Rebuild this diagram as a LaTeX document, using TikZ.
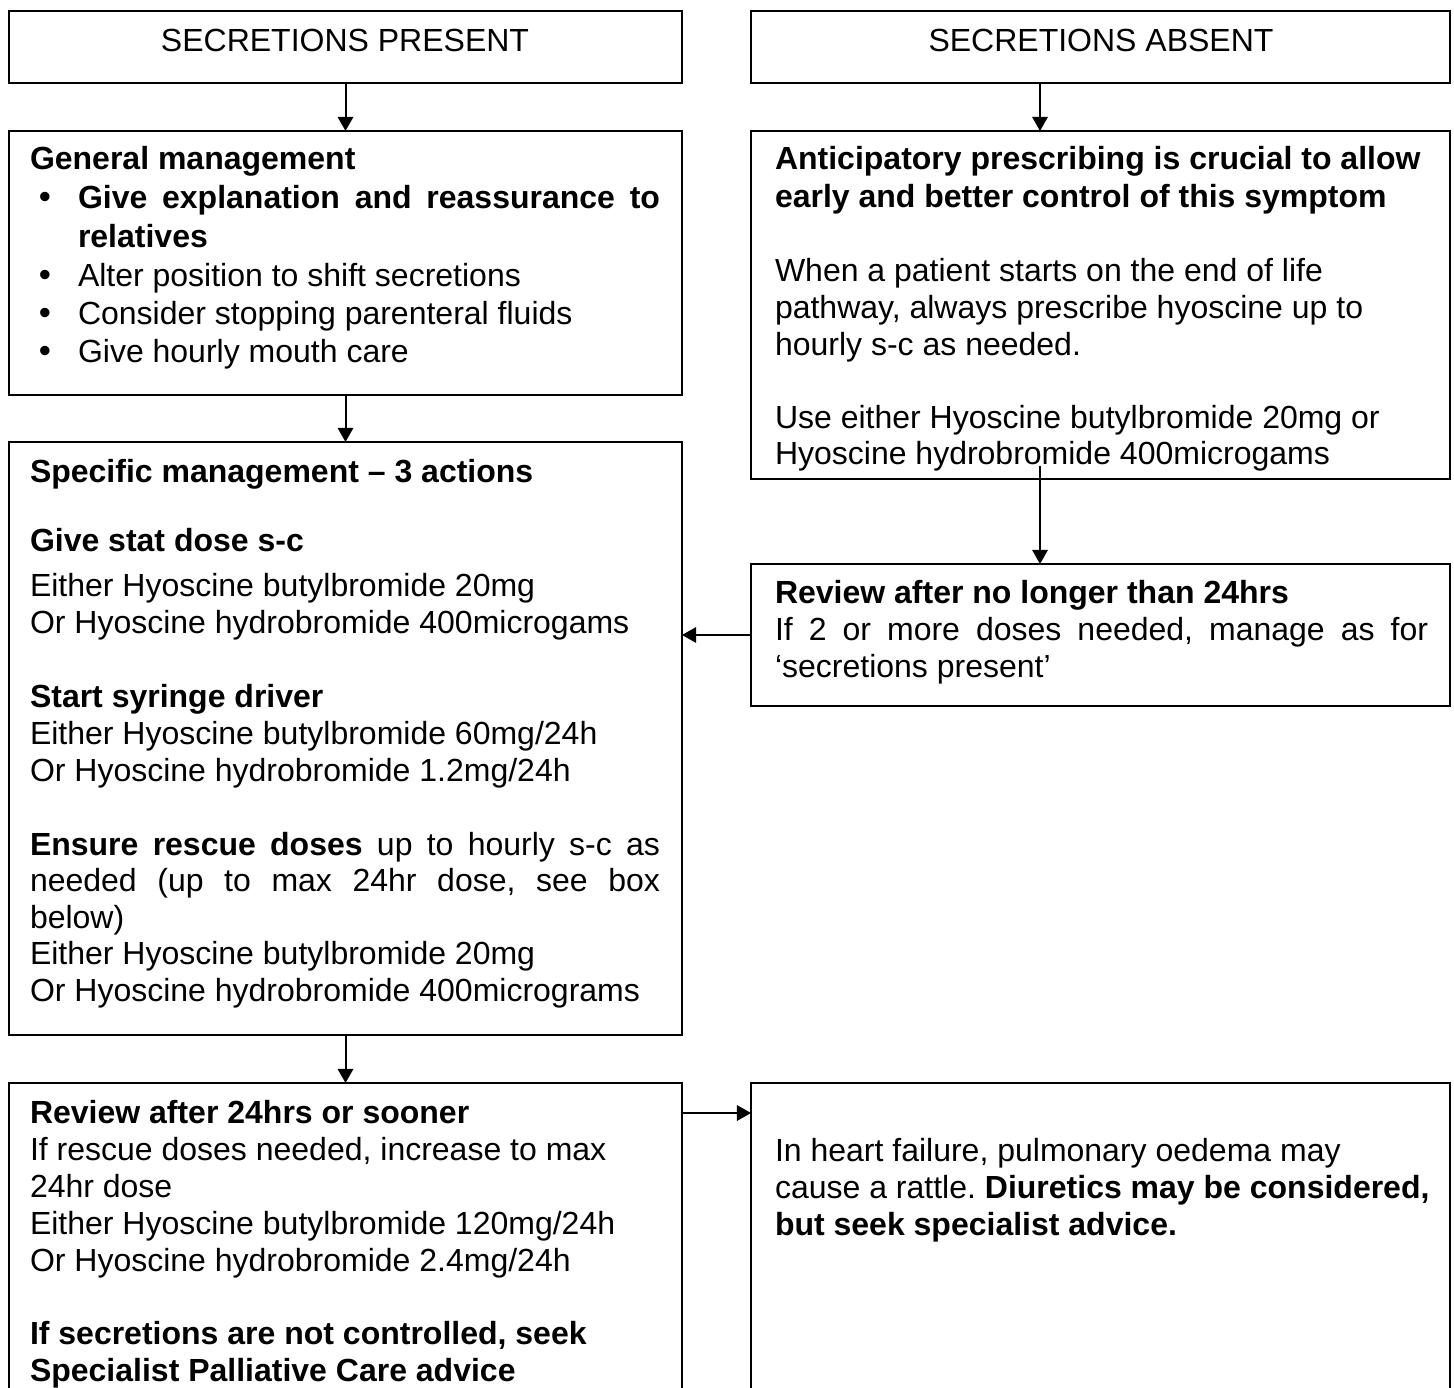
\documentclass[tikz,border=0pt]{standalone}
\usepackage{fontspec}
\setmainfont{Liberation Sans}
\usetikzlibrary{arrows.meta}
\frenchspacing
\tikzset{
  box/.style={draw, line width=0.8pt, inner sep=0pt, outer sep=0pt, anchor=north west},
  arr/.style={-{Triangle[length=5.3pt,width=5.8pt]}, line width=0.75pt},
  txt/.style={anchor=base west, inner sep=0pt, outer sep=0pt, align=justify},
  fs/.style={font={\fontsize{12pt}{#1}\selectfont}},
  bul/.style={anchor=base, inner sep=0pt, font={\fontsize{13pt}{14pt}\selectfont}},
}
\begin{document}
\begin{tikzpicture}[x=0.375pt, y=-0.375pt]
\clip (0,0) rectangle (1454,1387);
% boxes
\node[box, minimum width=252.375pt, minimum height=27pt] (A) at (9,11) {};
\node[box, minimum width=262.125pt, minimum height=27pt] (B) at (751,11) {};
\node[box, minimum width=252.375pt, minimum height=99pt] (C) at (9,131) {};
\node[box, minimum width=252.375pt, minimum height=222.375pt] (D) at (9,442) {};
\node[box, minimum width=252.375pt, minimum height=118.875pt] (E) at (9,1083) {};
\node[box, minimum width=262.125pt, minimum height=130.5pt] (F) at (751,131) {};
\node[box, minimum width=262.125pt, minimum height=53.25pt] (G) at (751,564) {};
\node[box, minimum width=262.125pt, minimum height=118.875pt] (H) at (751,1083) {};
% headings
\node[anchor=base, inner sep=0pt, fs=14pt] (tA) at (345,52) {SECRETIONS PRESENT};
\node[anchor=base, inner sep=0pt, fs=14pt] (tB) at (1101,52) {SECRETIONS ABSENT};
% box C
\node[txt, text width=236.25pt, fs=14.4pt] (tC1) at (30,170) {\bfseries General management};
\node[txt, text width=218.25pt, fs=14.4pt] (tC2) at (78,209) {\bfseries Give explanation and reassurance to\linebreak relatives};
\node[txt, text width=230pt, fs=14.4pt] (tC3) at (78,286) {Alter position to shift secretions\newline Consider stopping parenteral fluids\newline Give hourly mouth care};
\node[bul] (b1) at (45,209) {•};
\node[bul] (b2) at (45,286) {•};
\node[bul] (b3) at (45,324) {•};
\node[bul] (b4) at (45,362) {•};
% box D
\node[txt, text width=236.25pt, fs=13.9pt] (tD1) at (30,482) {\bfseries Specific management – 3 actions};
\node[txt, text width=236.25pt, fs=13.9pt] (tD2) at (30,551) {\bfseries Give stat dose s-c};
\node[txt, text width=245pt, fs=13.9pt] (tD3) at (30,596) {Either Hyoscine butylbromide 20mg\newline Or Hyoscine hydrobromide 400microgams};
\node[txt, text width=245pt, fs=13.9pt] (tD4) at (30,707) {\textbf{Start syringe driver}\newline Either Hyoscine butylbromide 60mg/24h\newline Or Hyoscine hydrobromide 1.2mg/24h};
\node[txt, text width=236.25pt, fs=13.7pt] (tD5) at (30,855) {\textbf{Ensure rescue doses} up to hourly s-c as\linebreak needed (up to max 24hr dose, see box\linebreak below)\newline Either Hyoscine butylbromide 20mg\newline Or Hyoscine hydrobromide 400micrograms};
% box E
\node[txt, text width=245pt, fs=13.9pt] (tE1) at (30,1123) {\textbf{Review after 24hrs or sooner}\newline If rescue doses needed, increase to max\newline 24hr dose\newline Either Hyoscine butylbromide 120mg/24h\newline Or Hyoscine hydrobromide 2.4mg/24h};
\node[txt, text width=245pt, fs=13.9pt] (tE2) at (30,1344) {\bfseries If secretions are not controlled, seek\newline Specialist Palliative Care advice};
% box F
\node[txt, text width=255pt, fs=13.9pt] (tF1) at (775,170) {\bfseries Anticipatory prescribing is crucial to allow\newline early and better control of this symptom};
\node[txt, text width=255pt, fs=13.7pt] (tF2) at (775,282) {When a patient starts on the end of life\newline pathway, always prescribe hyoscine up to\newline hourly s-c as needed.};
\node[txt, text width=255pt, fs=13.6pt] (tF3) at (775,428) {Use either Hyoscine butylbromide 20mg or\newline Hyoscine hydrobromide 400microgams};
% box G
\node[txt, text width=244.9pt, fs=13.9pt] (tG) at (775,603) {\textbf{Review after no longer than 24hrs}\newline If 2 or more doses needed, manage as for\linebreak ‘secretions present’};
% box H
\node[txt, text width=255pt, fs=13.9pt] (tH) at (775,1161) {In heart failure, pulmonary oedema may\newline cause a rattle. \textbf{Diuretics may be considered,}\newline \textbf{but seek specialist advice.}};
% connectors
\coordinate (rx) at (1040,0);
\coordinate (fs) at (1040,466);
\coordinate (ey) at (0,1113);
\draw[arr] (A.south) -- (C.north);
\draw[arr] (C.south) -- (D.north);
\draw[arr] (D.south) -- (E.north);
\draw[arr] (B.south -| rx) -- (F.north -| rx);
\draw[arr] (fs) -- (G.north -| fs);
\draw[arr] (G.west) -- (G.west -| D.east);
\draw[arr] (E.east |- ey) -- (H.west |- ey);
\end{tikzpicture}
\end{document}
